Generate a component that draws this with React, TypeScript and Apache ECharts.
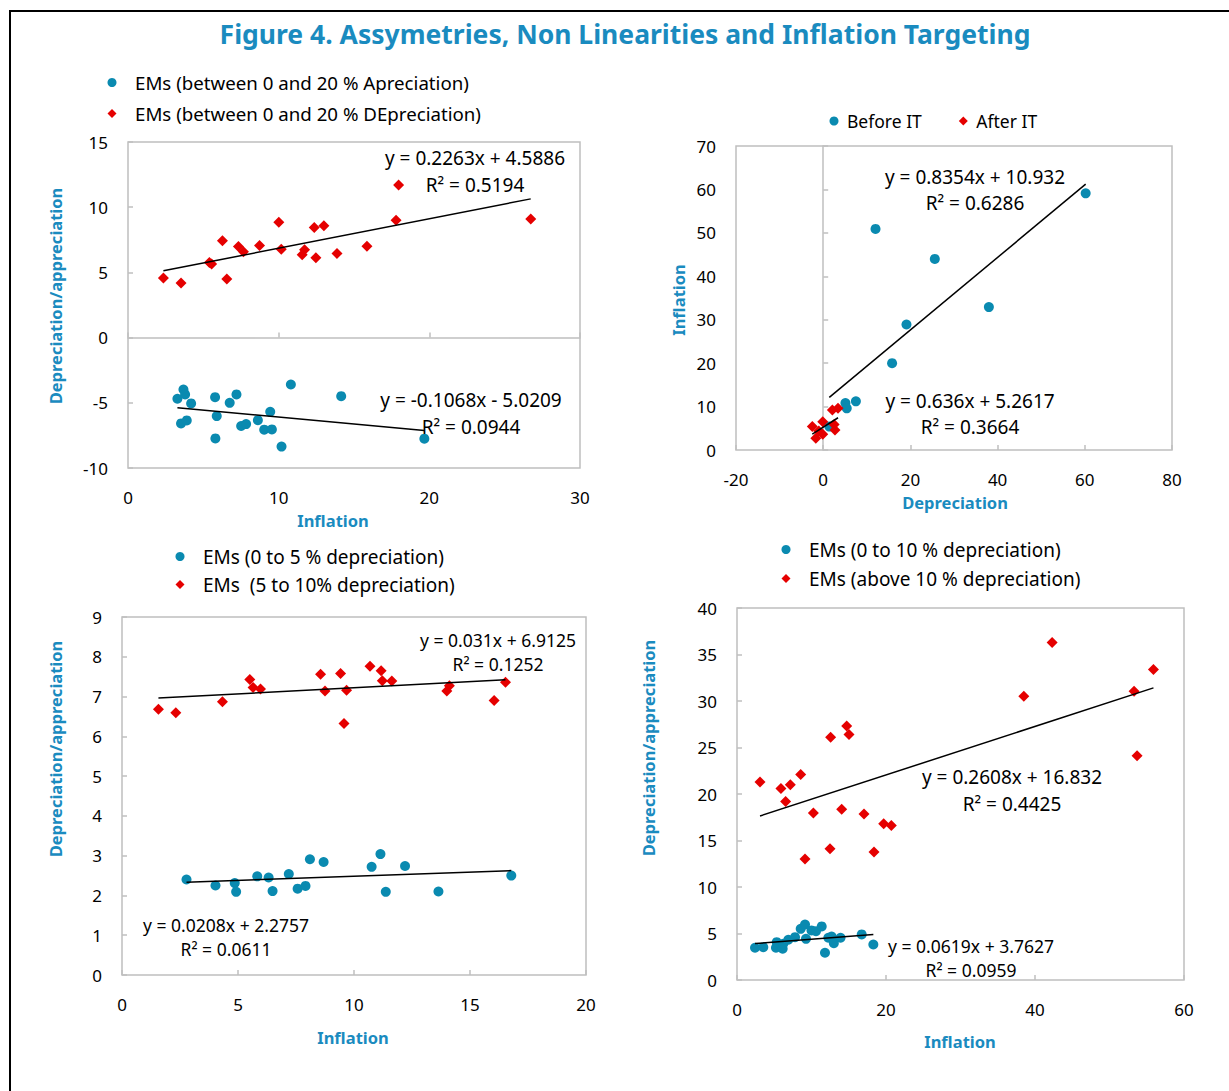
import React, { useEffect, useRef } from "react";
import * as echarts from "echarts";

// ---------- Panel 1: EMs appreciation / depreciation vs inflation ----------
const p1AppName = "EMs (between 0 and 20 % Apreciation)";
const p1DepName = "EMs (between 0 and 20 % DEpreciation)";
const p1Apreciation = [
  [3.28, -4.69], [3.68, -3.98], [3.79, -4.36], [4.19, -5.05], [3.52, -6.58], [3.9, -6.35],
  [5.78, -4.57], [5.89, -6.02], [5.8, -7.73], [6.75, -5.0], [7.2, -4.36], [7.51, -6.78],
  [7.84, -6.63], [8.62, -6.33], [9.44, -5.69], [9.04, -7.06], [9.55, -7.04], [10.19, -8.36],
  [10.81, -3.6], [14.15, -4.49], [19.67, -7.75],
];
const p1Depreciation = [
  [2.35, 4.57], [3.52, 4.18], [5.4, 5.76], [5.55, 5.65], [6.27, 7.42], [6.56, 4.49],
  [7.33, 6.99], [7.66, 6.58], [8.73, 7.06], [10.01, 8.85], [10.17, 6.78], [11.56, 6.35],
  [11.72, 6.73], [12.36, 8.44], [13.0, 8.57], [12.47, 6.12], [13.87, 6.45], [15.86, 7.01],
  [17.79, 9.0], [17.96, 11.71], [26.73, 9.1],
];
const p1AppFit = [-0.1068, -5.0209];
const p1DepFit = [0.2263, 4.5886];
const p1AppEq = ["y = -0.1068x - 5.0209", "R² = 0.0944"];
const p1DepEq = ["y = 0.2263x + 4.5886", "R² = 0.5194"];
const p1XRange = [0, 30, 10];
const p1YRange = [-10, 15, 5];

// ---------- Panel 2: Before / after inflation targeting ----------
const p2BeforeName = "Before IT";
const p2AfterName = "After IT";
const p2Before = [
  [60.2, 59.1], [12.0, 50.9], [25.6, 44.0], [38.0, 32.9], [19.1, 28.9], [15.8, 20.0],
  [7.5, 11.2], [5.1, 10.8], [5.4, 9.6], [1.4, 5.4],
];
const p2After = [
  [-2.5, 5.4], [-0.1, 6.5], [-1.7, 2.7], [-0.1, 3.6], [2.1, 9.2], [3.4, 9.6],
  [2.5, 5.9], [2.7, 4.6], [-1.0, 4.4],
];
const p2BeforeFit = [0.8354, 10.932];
const p2AfterFit = [0.636, 5.2617];
const p2BeforeEq = ["y = 0.8354x + 10.932", "R² = 0.6286"];
const p2AfterEq = ["y = 0.636x + 5.2617", "R² = 0.3664"];
const p2XRange = [-20, 80, 20];
const p2YRange = [0, 70, 10];

// ---------- Panel 3: 0-5% vs 5-10% depreciation ----------
const p3LowName = "EMs (0 to 5 % depreciation)";
const p3HighName = "EMs  (5 to 10% depreciation)";
const p3Low = [
  [2.78, 2.4], [4.03, 2.25], [4.86, 2.31], [4.92, 2.09], [5.83, 2.48], [6.32, 2.45],
  [6.49, 2.11], [7.19, 2.54], [7.57, 2.17], [7.91, 2.24], [8.1, 2.91], [8.69, 2.84],
  [10.76, 2.72], [11.14, 3.04], [11.37, 2.09], [12.2, 2.74], [13.64, 2.1], [16.78, 2.5],
];
const p3High = [
  [1.57, 6.68], [2.32, 6.59], [4.33, 6.87], [5.51, 7.43], [5.65, 7.23], [5.97, 7.19],
  [8.56, 7.56], [8.75, 7.14], [9.42, 7.58], [9.68, 7.16], [9.57, 6.32], [10.69, 7.76],
  [11.17, 7.65], [11.22, 7.4], [11.63, 7.39], [14.0, 7.14], [14.11, 7.27], [16.04, 6.9],
  [16.53, 7.36],
];
const p3LowFit = [0.0208, 2.2757];
const p3HighFit = [0.031, 6.9125];
const p3LowEq = ["y = 0.0208x + 2.2757", "R² = 0.0611"];
const p3HighEq = ["y = 0.031x + 6.9125", "R² = 0.1252"];
const p3XRange = [0, 20, 5];
const p3YRange = [0, 9, 1];

// ---------- Panel 4: 0-10% vs above 10% depreciation ----------
const p4LowName = "EMs (0 to 10 % depreciation)";
const p4HighName = "EMs (above 10 % depreciation)";
const p4Low = [
  [2.42, 3.47], [3.53, 3.53], [5.23, 3.47], [5.33, 4.07], [6.13, 3.36], [6.21, 3.9],
  [6.89, 4.33], [7.79, 4.61], [8.55, 5.5], [9.13, 5.97], [9.26, 4.43], [10.0, 5.33],
  [10.6, 5.25], [11.37, 5.76], [11.81, 2.93], [12.26, 4.54], [12.7, 4.68], [13.0, 3.96],
  [13.9, 4.54], [16.74, 4.9], [18.3, 3.82],
];
const p4High = [
  [3.09, 21.3], [5.9, 20.6], [7.16, 21.0], [6.53, 19.2], [8.55, 22.1], [10.25, 17.95],
  [12.57, 26.1], [12.48, 14.1], [9.13, 13.0], [14.05, 18.35], [14.72, 27.3], [15.03, 26.4],
  [17.05, 17.85], [18.39, 13.76], [19.69, 16.8], [20.71, 16.6], [38.5, 30.5], [42.3, 36.3],
  [53.3, 31.05], [53.7, 24.1], [55.9, 33.4],
];
const p4LowFit = [0.0619, 3.7627];
const p4HighFit = [0.2608, 16.832];
const p4LowEq = ["y = 0.0619x + 3.7627", "R² = 0.0959"];
const p4HighEq = ["y = 0.2608x + 16.832", "R² = 0.4425"];
const p4XRange = [0, 60, 20];
const p4YRange = [0, 40, 5];

const titleText = "Figure 4. Assymetries, Non Linearities and Inflation Targeting";

const BLUE = "#0a8ab0";
const RED = "#e50000";
const TITLE_BLUE = "#1a8bbf";
const BORDER = "#bfbfbf";
const FONT = "'Noto Sans', sans-serif";
const DIAMOND = "path://M5,0L10,5L5,10L0,5Z";

function fitLine(pts: number[][], fit: number[]) {
  const xs = pts.map((p) => p[0]);
  const x0 = Math.min(...xs);
  const x1 = Math.max(...xs);
  return [
    [x0, fit[0] * x0 + fit[1]],
    [x1, fit[0] * x1 + fit[1]],
  ];
}

function scatter(name: string, data: number[][], xi: number, yi: number, circle: boolean) {
  return {
    type: "scatter",
    name,
    data,
    xAxisIndex: xi,
    yAxisIndex: yi,
    symbol: circle ? "circle" : DIAMOND,
    symbolSize: circle ? 10 : 11,
    symbolKeepAspect: true,
    itemStyle: { color: circle ? BLUE : RED, opacity: 1 },
    z: 3,
  };
}

function trend(data: number[][], xi: number, yi: number) {
  return {
    type: "line",
    data,
    xAxisIndex: xi,
    yAxisIndex: yi,
    symbol: "none",
    silent: true,
    lineStyle: { color: "#000", width: 1.5 },
    z: 4,
  };
}

function xAxisMain(gridIndex: number, r: number[], ticks: boolean) {
  return {
    type: "value",
    gridIndex,
    min: r[0],
    max: r[1],
    interval: r[2],
    position: "bottom",
    axisLine: { show: false, onZero: false },
    axisTick: { show: ticks, inside: true, length: 5, lineStyle: { color: BORDER, width: 1.5 } },
    splitLine: { show: false },
    axisLabel: { color: "#000", fontSize: 17, fontFamily: FONT, margin: 21 },
  };
}

function yAxisMain(gridIndex: number, r: number[], ticks: boolean) {
  return {
    type: "value",
    gridIndex,
    min: r[0],
    max: r[1],
    interval: r[2],
    position: "left",
    axisLine: { show: false, onZero: false },
    axisTick: { show: ticks, inside: true, length: 5, lineStyle: { color: BORDER, width: 1.5 } },
    splitLine: { show: false },
    axisLabel: { color: "#000", fontSize: 17, fontFamily: FONT, margin: 20 },
  };
}

function eqTexts(lines: string[], cx: number, y1: number, y2: number, size: number) {
  return lines.map((t, i) => ({
    type: "text",
    x: cx,
    y: i === 0 ? y1 : y2,
    style: {
      text: t,
      align: "center",
      verticalAlign: "middle",
      fill: "#000",
      font: `${size}px ${FONT}`,
    },
    z: 10,
  }));
}

function axisTitle(text: string, x: number, y: number, vertical: boolean) {
  return {
    type: "text",
    x,
    y,
    rotation: vertical ? Math.PI / 2 : 0,
    style: {
      text,
      align: "center",
      verticalAlign: "middle",
      fill: TITLE_BLUE,
      font: `bold 16.5px ${FONT}`,
    },
    z: 10,
  };
}

function legend(circleName: string, diamondName: string, left: number, top: number, vertical: boolean, gap: number, iw: number, fs: number) {
  return {
    data: [{ name: circleName, icon: "circle" }, { name: diamondName, icon: DIAMOND }],
    orient: vertical ? "vertical" : "horizontal",
    left,
    top,
    padding: 0,
    itemGap: gap,
    itemWidth: iw,
    itemHeight: 9,
    symbolKeepAspect: true,
    textStyle: { color: "#000", fontSize: fs, fontFamily: FONT },
    selectedMode: false,
  };
}

export default function App() {
  const ref = useRef<HTMLDivElement>(null);
  useEffect(() => {
    if (!ref.current) return;
    const chart = echarts.init(ref.current, null, { renderer: "svg" });
    const option: any = {
      animation: false,
      backgroundColor: "#fff",
      textStyle: { fontFamily: FONT },
      title: {
        text: titleText,
        left: 625,
        top: 20,
        textAlign: "center",
        padding: 0,
        textStyle: { color: TITLE_BLUE, fontSize: 26.5, fontWeight: "bold", fontFamily: FONT },
      },
      legend: [
        legend(p1AppName, p1DepName, 107.5, 73, true, 12, 36, 18.7),
        legend(p2BeforeName, p2AfterName, 829.5, 112, false, 37, 16, 17.5),
        legend(p3LowName, p3HighName, 175.5, 547, true, 9, 36, 19),
        legend(p4LowName, p4HighName, 781.5, 540, true, 10, 36, 19),
      ],
      grid: [
        { left: 128, top: 142, width: 452, height: 326, show: true, borderColor: BORDER, borderWidth: 1.5, backgroundColor: "transparent" },
        { left: 736, top: 146, width: 436, height: 304, show: true, borderColor: BORDER, borderWidth: 1.5, backgroundColor: "transparent" },
        { left: 122, top: 617, width: 464, height: 358, show: true, borderColor: BORDER, borderWidth: 1.5, backgroundColor: "transparent" },
        { left: 737, top: 608, width: 447, height: 372, show: true, borderColor: BORDER, borderWidth: 1.5, backgroundColor: "transparent" },
      ],
      xAxis: [
        xAxisMain(0, p1XRange, false),
        {
          type: "value",
          gridIndex: 0,
          min: p1XRange[0],
          max: p1XRange[1],
          interval: p1XRange[2],
          position: "top",
          axisLine: { show: true, onZero: true, lineStyle: { color: BORDER, width: 1.5 } },
          axisTick: { show: true, inside: false, length: 5, lineStyle: { color: BORDER, width: 1.5 } },
          axisLabel: { show: false },
          splitLine: { show: false },
        },
        xAxisMain(1, p2XRange, true),
        xAxisMain(2, p3XRange, true),
        xAxisMain(3, p4XRange, true),
      ],
      yAxis: [
        yAxisMain(0, p1YRange, true),
        yAxisMain(1, p2YRange, false),
        {
          type: "value",
          gridIndex: 1,
          min: p2YRange[0],
          max: p2YRange[1],
          interval: p2YRange[2],
          position: "right",
          axisLine: { show: true, onZero: true, lineStyle: { color: BORDER, width: 1.5 } },
          axisTick: { show: true, inside: false, length: 5, lineStyle: { color: BORDER, width: 1.5 } },
          axisLabel: { show: false },
          splitLine: { show: false },
        },
        yAxisMain(2, p3YRange, true),
        yAxisMain(3, p4YRange, true),
      ],
      series: [
        scatter(p1AppName, p1Apreciation, 0, 0, true),
        scatter(p1DepName, p1Depreciation, 0, 0, false),
        trend(fitLine(p1Apreciation, p1AppFit), 0, 0),
        trend(fitLine(p1Depreciation, p1DepFit), 0, 0),

        scatter(p2BeforeName, p2Before, 2, 1, true),
        scatter(p2AfterName, p2After, 2, 1, false),
        trend(fitLine(p2Before, p2BeforeFit), 2, 1),
        trend(fitLine(p2After, p2AfterFit), 2, 1),

        scatter(p3LowName, p3Low, 3, 3, true),
        scatter(p3HighName, p3High, 3, 3, false),
        trend(fitLine(p3Low, p3LowFit), 3, 3),
        trend(fitLine(p3High, p3HighFit), 3, 3),

        scatter(p4LowName, p4Low, 4, 4, true),
        scatter(p4HighName, p4High, 4, 4, false),
        trend(fitLine(p4Low, p4LowFit), 4, 4),
        trend(fitLine(p4High, p4HighFit), 4, 4),
      ],
      graphic: [
        {
          type: "rect",
          shape: { x: 10, y: 11, width: 1240, height: 1100 },
          style: { fill: "none", stroke: "#000", lineWidth: 2 },
          z: 0,
          silent: true,
        },
        ...eqTexts(p1DepEq, 475, 158, 185, 19),
        ...eqTexts(p1AppEq, 471, 400, 427, 19),
        ...eqTexts(p2BeforeEq, 975, 177, 203, 19),
        ...eqTexts(p2AfterEq, 970, 401, 427, 19),
        ...eqTexts(p3HighEq, 498, 640, 664, 17.5),
        ...eqTexts(p3LowEq, 226, 925, 949, 17.5),
        ...eqTexts(p4HighEq, 1012, 777, 804, 19),
        ...eqTexts(p4LowEq, 971, 946, 970, 17.5),
        axisTitle("Depreciation/appreciation", 55, 296, true),
        axisTitle("Inflation", 333, 520, false),
        axisTitle("Inflation", 678, 300, true),
        axisTitle("Depreciation", 955, 502, false),
        axisTitle("Depreciation/appreciation", 55, 749, true),
        axisTitle("Inflation", 353, 1037, false),
        axisTitle("Depreciation/appreciation", 648, 748, true),
        axisTitle("Inflation", 960, 1041, false),
      ],
    };
    chart.setOption(option);
    return () => chart.dispose();
  }, []);
  return (
    <div
      ref={ref}
      style={{ position: "absolute", left: 0, top: 0, width: 1229, height: 1091 }}
    />
  );
}
